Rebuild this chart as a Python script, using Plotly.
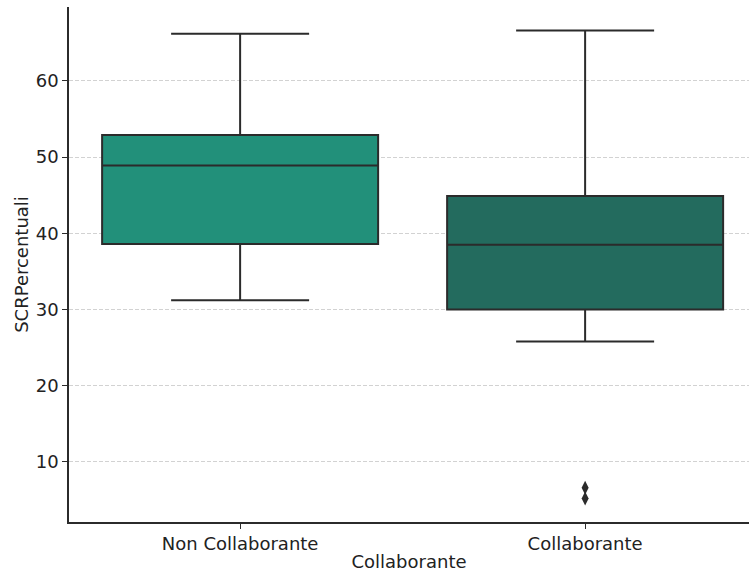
import plotly.graph_objects as go

# Summary statistics of SCRPercentuali per group
categories = ["Non Collaborante", "Collaborante"]
lower_whisker = [31.2, 25.8]
q1 = [38.6, 30.0]
median = [48.9, 38.5]
q3 = [52.9, 44.9]
upper_whisker = [66.2, 66.6]
box_colors = ["#22907a", "#236b5e"]

# Points beyond the whiskers
outlier_cat = ["Collaborante", "Collaborante"]
outlier_val = [6.6, 5.2]

edge = "#2b2b2b"
font = "DejaVu Sans, sans-serif"

fig = go.Figure()
for i, cat in enumerate(categories):
    fig.add_trace(go.Box(
        x=[cat],
        q1=[q1[i]], median=[median[i]], q3=[q3[i]],
        lowerfence=[lower_whisker[i]], upperfence=[upper_whisker[i]],
        fillcolor=box_colors[i],
        line=dict(color=edge, width=2),
        width=0.8,
        whiskerwidth=0.5,
        boxpoints=False,
        showlegend=False,
        hoverinfo="skip",
    ))

fig.add_trace(go.Scatter(
    x=outlier_cat, y=outlier_val, mode="markers",
    marker=dict(symbol="diamond-tall", size=10, color=edge,
                line=dict(width=0)),
    showlegend=False, hoverinfo="skip",
))

fig.update_layout(
    width=749, height=574,
    margin=dict(l=69, r=0, t=7, b=52),
    plot_bgcolor="white", paper_bgcolor="white",
    font=dict(family=font, size=18, color="#222222"),
    boxmode="overlay",
)
fig.update_xaxes(
    type="category", categoryorder="array", categoryarray=categories,
    range=[-0.496, 1.475],
    showline=True, linecolor=edge, linewidth=1.5,
    ticks="outside", ticklen=5, tickcolor=edge, tickwidth=1.2,
    showgrid=False, zeroline=False,
    tickfont=dict(size=18),
    title=dict(text="Collaborante", font=dict(size=18), standoff=2),
)
fig.update_yaxes(
    range=[2.1, 69.7],
    tickvals=[10, 20, 30, 40, 50, 60],
    showline=True, linecolor=edge, linewidth=1.5,
    ticks="outside", ticklen=5, tickcolor=edge, tickwidth=1.2,
    showgrid=True, gridcolor="#d2d2d2", griddash="4px,2px", gridwidth=1,
    zeroline=False,
    tickfont=dict(size=18),
    title=dict(text="SCRPercentuali", font=dict(size=18), standoff=2),
)

fig.write_html("out.html")
